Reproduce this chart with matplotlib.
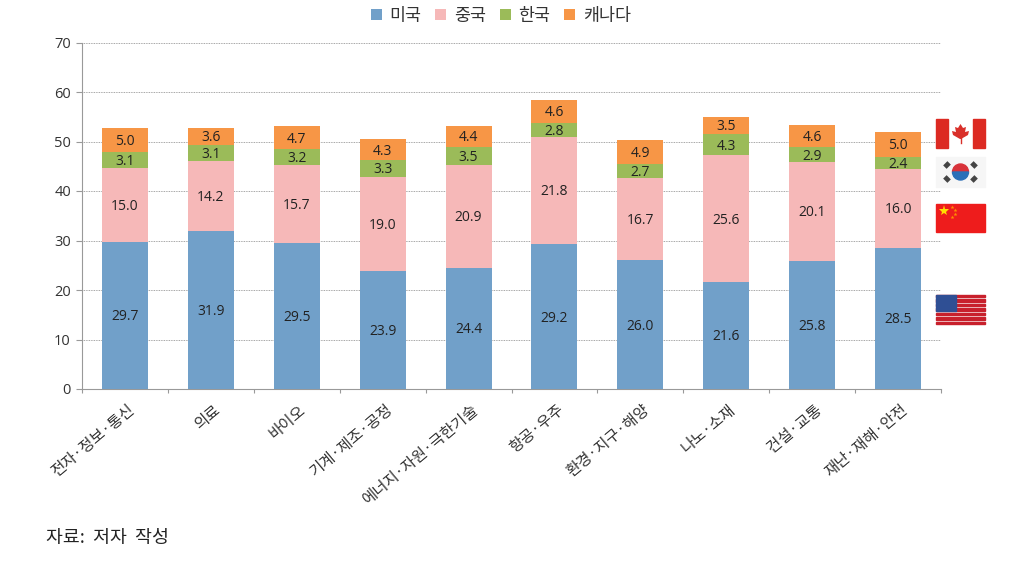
import matplotlib
matplotlib.use('Agg')
import matplotlib.pyplot as plt
from matplotlib.patches import Rectangle, Wedge, Polygon
import numpy as np

plt.rcParams['font.family'] = ['Noto Sans CJK KR', 'DejaVu Sans']
num_font = ['Open Sans', 'DejaVu Sans']

categories = ['전자·정보·통신', '의료', '바이오', '기계·제조·공정', '에너지·자원·극한기술',
              '항공·우주', '환경·지구·해양', '나노·소재', '건설·교통', '재난·재해·안전']
usa = [29.7, 31.9, 29.5, 23.9, 24.4, 29.2, 26.0, 21.6, 25.8, 28.5]
china = [15.0, 14.2, 15.7, 19.0, 20.9, 21.8, 16.7, 25.6, 20.1, 16.0]
korea = [3.1, 3.1, 3.2, 3.3, 3.5, 2.8, 2.7, 4.3, 2.9, 2.4]
canada = [5.0, 3.6, 4.7, 4.3, 4.4, 4.6, 4.9, 3.5, 4.6, 5.0]
series_names = ['미국', '중국', '한국', '캐나다']
colors = ['#71A0C9', '#F6B8B8', '#9BBB59', '#F79646']
W, H = 1014, 563

fig = plt.figure(figsize=(W / 100, H / 100), dpi=100)
ax = fig.add_axes([82 / W, 1 - 389 / H, (941 - 82) / W, (389 - 42.5) / H])

x = np.arange(len(categories))
bottom = np.zeros(len(categories))
for name, vals, col in zip(series_names, [usa, china, korea, canada], colors):
    ax.bar(x, vals, 0.535, bottom=bottom, color=col, label=name, zorder=3)
    for xi, b, v in zip(x, bottom, vals):
        ax.annotate(f'{v:.1f}', (xi, b + v / 2), xytext=(0, -1), textcoords='offset points',
                    ha='center', va='center', fontsize=10, color='#222222', zorder=4,
                    family=num_font)
    bottom = bottom + np.array(vals)

ax.set_xlim(-0.5, 9.5)
ax.set_ylim(0, 70)
ax.set_yticks(range(0, 71, 10))
ax.tick_params(axis='y', labelsize=10.5, length=4, color='#999999', labelcolor='#333333', pad=4)
for t in ax.get_yticklabels():
    t.set_family(num_font)
ax.yaxis.grid(True, color='#888888', linewidth=0.6, linestyle=(0, (1, 1)), zorder=0)
ax.set_axisbelow(True)

# ticks sit between the categories
ax.set_xticks(np.arange(-0.5, 10, 1))
ax.set_xticklabels([])
ax.tick_params(axis='x', length=3, color='#999999', direction='out')
for xi, label in zip(x, categories):
    ax.annotate(label, (xi + 0.02, 0), xytext=(0, -9), textcoords='offset points',
                rotation=40, ha='right', va='top', rotation_mode='anchor',
                fontsize=11.2, color='#333333', annotation_clip=False)

for s in ['top', 'right']:
    ax.spines[s].set_visible(False)
for s in ['left', 'bottom']:
    ax.spines[s].set_color('#999999')

handles, labels = ax.get_legend_handles_labels()
fig.legend(handles, labels, loc='upper center', bbox_to_anchor=(501 / W, 1 + 9 / H), ncol=4,
           frameon=False, fontsize=12.5, handlelength=0.62, handleheight=0.62,
           handletextpad=0.45, columnspacing=0.8, labelcolor='#333333')

fig.text(46 / W, 1 - 538 / H, '자료:  저자  작성', fontsize=13.2, color='#222222', va='center')

# flags drawn in an overlay using pixel coordinates
ov = fig.add_axes([0, 0, 1, 1])
ov.set_xlim(0, W)
ov.set_ylim(H, 0)
ov.axis('off')
ov.patch.set_alpha(0)

# canada
ov.add_patch(Rectangle((936, 119), 49, 29, color='white'))
ov.add_patch(Rectangle((936, 119), 12, 29, color='#DC2A22'))
ov.add_patch(Rectangle((973, 119), 12, 29, color='#DC2A22'))
leaf = [(960.5, 124), (963, 128), (966, 127), (965, 132), (969, 131), (968, 135), (961, 139),
        (960, 139), (953, 135), (952, 131), (956, 132), (955, 127), (958, 128)]
ov.add_patch(Polygon(leaf, color='#D9302A', lw=0))
ov.plot([960.5, 960.5], [137, 143], color='#D9302A', lw=1)

# korea
ov.add_patch(Rectangle((936, 157), 49, 30, color='#F6F6F6'))
ov.add_patch(Wedge((960.5, 172), 8, 180, 360, color='#D8323A'))
ov.add_patch(Wedge((960.5, 172), 8, 0, 180, color='#2B6FB8'))
for px, py, ang in [(947, 165, -45), (974, 165, 45), (947, 179, 45), (974, 179, -45)]:
    ov.plot([px - 3 * np.cos(np.radians(ang)), px + 3 * np.cos(np.radians(ang))],
            [py - 3 * np.sin(np.radians(ang)), py + 3 * np.sin(np.radians(ang))],
            color='#444444', lw=3.5, solid_capstyle='butt')

# china
ov.add_patch(Rectangle((936, 204), 49, 28, color='#EE1C1C'))
ov.plot([944], [211], marker='*', ms=8, color='#FFE000', mew=0)
for px, py in [(952, 207), (955, 210), (955, 214), (952, 217)]:
    ov.plot([px], [py], marker='*', ms=3, color='#FF9000', mew=0)

# usa
ov.add_patch(Rectangle((936, 295), 49, 29, color='white'))
for i in range(7):
    ov.add_patch(Rectangle((936, 295 + i * 29 / 6.5), 49, 29 / 13, color='#C8202C'))
ov.add_patch(Rectangle((936, 295), 20, 15.5, color='#2F4F94'))

fig.savefig('out.png', dpi=100)
